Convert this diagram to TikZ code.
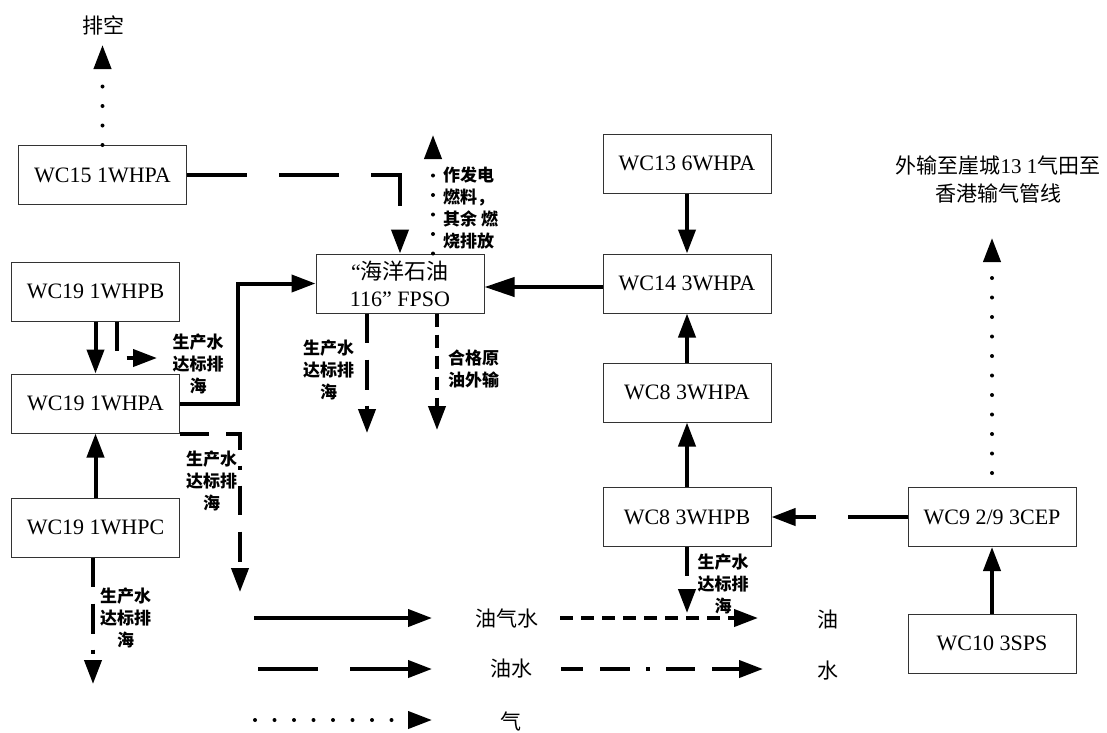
\documentclass[tikz,border=0pt]{standalone}
\usepackage{fontspec}
\setmainfont{Liberation Serif}
\newfontfamily\cjk{Noto Sans CJK SC}
\usetikzlibrary{arrows.meta}
\newcommand\boxfont{\fontsize{22}{27}\selectfont}
\newcommand\thinfont{\fontsize{21}{28}\selectfont\cjk}
\newcommand\lblfont{\fontsize{17}{22}\selectfont\cjk\bfseries}
\begin{document}
\begin{tikzpicture}[x=1pt,y=-1pt,
  stn/.style={draw=black!80, line width=1pt, minimum width=168pt, minimum height=59pt, inner sep=0pt, font=\boxfont},
  flow/.style={line width=4pt},
  flowtip/.style={-{Triangle[length=24pt,width=17pt]}},
  oilwater/.style={flow, dash pattern=on 60pt off 32pt},
  oil/.style={flow, dash pattern=on 13pt off 8pt},
  water/.style={flow, dash pattern=on 29pt off 17pt on 30pt off 16pt on 4pt off 16pt},
  gas/.style={flow, line cap=round, dash pattern=on 0pt off 19.5pt},
  lbl/.style={font=\lblfont, align=center, inner sep=0pt},
  thintxt/.style={font=\thinfont, inner sep=0pt, align=center}]
\useasboundingbox (0,0) rectangle (1107,732);

% stations
\node[stn] (wc15) at (102.5,175) {WC15 1WHPA};
\node[stn] (wc19b) at (95.5,291.5) {WC19 1WHPB};
\node[stn] (wc19a) at (95.5,403.5) {WC19 1WHPA};
\node[stn] (wc19c) at (95.5,527.5) {WC19 1WHPC};
\node[stn, align=center] (fpso) at (400,283.5) {“{\cjk 海洋石油}\\116” FPSO};
\node[stn] (wc13) at (687,163.5) {WC13 6WHPA};
\node[stn] (wc14) at (687,283.5) {WC14 3WHPA};
\node[stn] (wc8a) at (687,392.5) {WC8 3WHPA};
\node[stn] (wc8b) at (687,517) {WC8 3WHPB};
\node[stn] (wc9) at (992,517) {WC9 2/9 3CEP};
\node[stn] (wc10) at (992,643.5) {WC10 3SPS};

% free ends
\coordinate (vent) at (102.5,45);
\coordinate (fuel) at (433,135);
\coordinate (fpsoW) at (367,433);
\coordinate (fpsoO) at (437,430);
\coordinate (b19) at (157,358);
\coordinate (a19) at (240,592);
\coordinate (c19) at (93,684);
\coordinate (b8) at (687,613);
\coordinate (export) at (992,238);

% WC15
\draw[gas,flowtip] (wc15.north) -- (vent);
\node[thintxt] (ventlbl) at (103,25) {排空};
\draw[oilwater,flowtip] (wc15.east) -| (fpso.north);

% FPSO
\draw[gas,flowtip] (fpso.north -| fuel) -- (fuel);
\node[lbl, align=left, anchor=west] (fuellbl) at (443,208) {作发电\\燃料，\\其余 燃\\烧排放};
\draw[water,flowtip] (fpso.south -| fpsoW) -- (fpsoW);
\node[lbl] (fpsowl) at (328.5,369.5) {生产水\\达标排\\海};
\draw[oil,flowtip] (fpso.south -| fpsoO) -- (fpsoO);
\node[lbl] (fpsool) at (473.5,368.5) {合格原\\油外输};

% WC19 group
\draw[flow,flowtip] (wc19b) -- (wc19a);
\draw[water,flowtip] ([xshift=21.5pt]wc19b.south) |- (b19);
\node[lbl] (b19l) at (198,364) {生产水\\达标排\\海};
\draw[flow,flowtip] (wc19a.east) -- ++(58,0) |- (fpso.west);
\draw[water,flowtip] (wc19a.south east) -| (a19);
\node[lbl] (a19l) at (211.5,481) {生产水\\达标排\\海};
\draw[flow,flowtip] (wc19c) -- (wc19a);
\draw[water,flowtip] (wc19c.south -| c19) -- (c19);
\node[lbl] (c19l) at (125.5,618) {生产水\\达标排\\海};

% right group
\draw[flow,-{Triangle[length=30pt,width=19pt]}] ([yshift=-3.5pt]wc14.west) -- ([yshift=-3.5pt]fpso.east);
\draw[flow,flowtip] (wc13) -- (wc14);
\draw[flow,flowtip] (wc8a) -- (wc14);
\draw[flow,flowtip] (wc8b) -- (wc8a);
\draw[water,flowtip] (wc8b.south) -- (b8);
\node[lbl] (b8l) at (723,584) {生产水\\达标排\\海};
\draw[oilwater,flowtip] (wc9) -- (wc8b);
\draw[flow,flowtip] (wc10) -- (wc9);
\draw[gas,flowtip,shorten <=14pt] (wc9.north) -- (export);
\node[thintxt] (exportl) at (998,179) {外输至崖城{\rmfamily 13 1}气田至\\香港输气管线};

% legend
\coordinate (l1a) at (254,618); \coordinate (l1b) at (432,618);
\draw[flow,flowtip] (l1a) -- (l1b);
\node[thintxt] (t1) at (507,618) {油气水};
\coordinate (l2a) at (258,669); \coordinate (l2b) at (432,669);
\draw[oilwater,flowtip] (l2a) -- (l2b);
\node[thintxt] (t2) at (511,669) {油水};
\coordinate (l3a) at (255,720); \coordinate (l3b) at (432,720);
\draw[gas,flowtip] (l3a) -- (l3b);
\node[thintxt] (t3) at (511,721) {气};
\coordinate (l4a) at (560,618); \coordinate (l4b) at (758,618);
\draw[oil,flowtip] (l4a) -- (l4b);
\node[thintxt] (t4) at (828,619) {油};
\coordinate (l5a) at (561,669); \coordinate (l5b) at (763,669);
\draw[water,dash phase=7pt,flowtip] (l5a) -- (l5b);
\node[thintxt] (t5) at (828,671) {水};
\end{tikzpicture}
\end{document}
